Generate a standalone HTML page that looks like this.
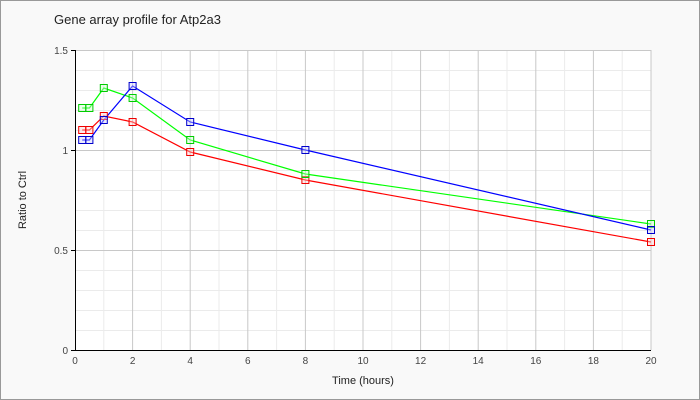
<!DOCTYPE html>
<html><head><style>body{margin:0}svg{display:block}</style></head><body>
<svg width="700" height="400" xmlns="http://www.w3.org/2000/svg" font-family="Liberation Sans, sans-serif">
<rect x="0.5" y="0.5" width="699" height="399" fill="#f9f9f9" stroke="#999"/>
<rect x="75" y="50" width="576" height="300" fill="#fff"/>
<g stroke="#ebebeb" stroke-width="1">
<path d="M103.8 50V350M161.4 50V350M219 50V350M276.6 50V350M334.2 50V350M391.8 50V350M449.4 50V350M507 50V350M564.6 50V350M622.2 50V350"/>
<path d="M75 70.5H651M75 90.5H651M75 110.5H651M75 130.5H651M75 170.5H651M75 190.5H651M75 210.5H651M75 230.5H651M75 270.5H651M75 290.5H651M75 310.5H651M75 330.5H651"/>
</g>
<g stroke="#c8c8c8" stroke-width="1">
<path d="M132.6 50V350M190.2 50V350M247.8 50V350M305.4 50V350M363 50V350M420.6 50V350M478.2 50V350M535.8 50V350M593.4 50V350M651 50V350"/>
<path d="M75 50.5H651M75 150.5H651M75 250.5H651"/>
</g>
<path d="M75.5 50V350.5H651" fill="none" stroke="#000"/>
<path d="M71 50.5H75M71 150.5H75M71 250.5H75M71 350.5H75" stroke="#000"/>
<g font-size="10" fill="#444" text-anchor="end">
<text x="68" y="54">1.5</text><text x="68" y="154">1</text><text x="68" y="254">0.5</text><text x="68" y="354">0</text></g>
<g font-size="10" fill="#444" text-anchor="middle">
<text x="75" y="364">0</text><text x="132.6" y="364">2</text><text x="190.2" y="364">4</text><text x="247.8" y="364">6</text><text x="305.4" y="364">8</text><text x="363" y="364">10</text><text x="420.6" y="364">12</text><text x="478.2" y="364">14</text><text x="535.8" y="364">16</text><text x="593.4" y="364">18</text><text x="651" y="364">20</text></g>
<text x="363" y="384" font-size="11" fill="#222" text-anchor="middle">Time (hours)</text>
<text transform="translate(26,200) rotate(-90)" font-size="11" fill="#222" text-anchor="middle">Ratio to Ctrl</text>
<text x="54" y="24" font-size="13" fill="#222">Gene array profile for Atp2a3</text>
<g fill="none" stroke-width="1.2">
<polyline stroke="#f00" points="82.2,130 89.4,130 103.8,116 132.6,122 190.2,152 305.4,180 651,242"/>
<polyline stroke="#0f0" points="82.2,108 89.4,108 103.8,88 132.6,98 190.2,140 305.4,174 651,224"/>
<polyline stroke="#00f" points="82.2,140 89.4,140 103.8,120 132.6,86 190.2,122 305.4,150 651,230"/>
</g>
<g stroke-width="1">
<g fill="#fcc" fill-opacity="0.4" stroke="#e00">
<rect x="78.7" y="126.5" width="7" height="7"/><rect x="85.9" y="126.5" width="7" height="7"/><rect x="100.3" y="112.5" width="7" height="7"/><rect x="129.1" y="118.5" width="7" height="7"/><rect x="186.7" y="148.5" width="7" height="7"/><rect x="301.9" y="176.5" width="7" height="7"/><rect x="647.5" y="238.5" width="7" height="7"/></g>
<g fill="#cfc" fill-opacity="0.4" stroke="#0c0">
<rect x="78.7" y="104.5" width="7" height="7"/><rect x="85.9" y="104.5" width="7" height="7"/><rect x="100.3" y="84.5" width="7" height="7"/><rect x="129.1" y="94.5" width="7" height="7"/><rect x="186.7" y="136.5" width="7" height="7"/><rect x="301.9" y="170.5" width="7" height="7"/><rect x="647.5" y="220.5" width="7" height="7"/></g>
<g fill="#ccf" fill-opacity="0.4" stroke="#00c">
<rect x="78.7" y="136.5" width="7" height="7"/><rect x="85.9" y="136.5" width="7" height="7"/><rect x="100.3" y="116.5" width="7" height="7"/><rect x="129.1" y="82.5" width="7" height="7"/><rect x="186.7" y="118.5" width="7" height="7"/><rect x="301.9" y="146.5" width="7" height="7"/><rect x="647.5" y="226.5" width="7" height="7"/></g>
</g>
</svg>
</body></html>
